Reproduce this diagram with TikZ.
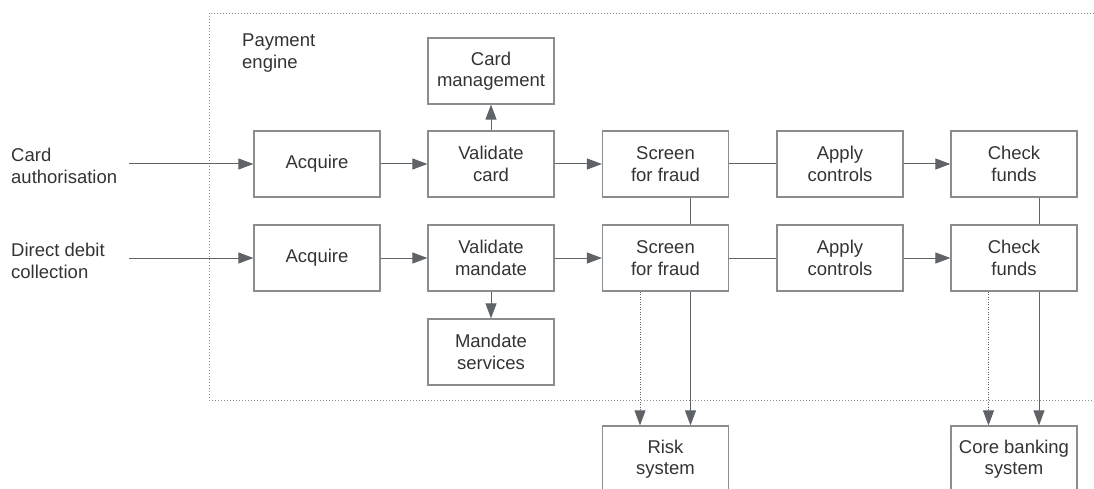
\documentclass[tikz,border=0pt]{standalone}
\usepackage{fontspec}
\setmainfont{Liberation Sans}
\usetikzlibrary{arrows.meta}
\definecolor{linegrey}{HTML}{5F6368}
\definecolor{boxgrey}{HTML}{8A8D90}
\definecolor{textgrey}{HTML}{333333}

\begin{document}
\begin{tikzpicture}[x=1pt, y=-1pt,
    box/.style={draw=boxgrey, line width=1.2pt, minimum width=126pt, minimum height=66pt,
      inner sep=0pt, align=center, text=textgrey, font=\fontsize{18.5}{21.5}\selectfont},
    lbl/.style={align=left, anchor=west, inner sep=0pt, text=textgrey, font=\fontsize{18.5}{21.5}\selectfont},
    arr/.style={-{Triangle[length=15pt,width=11pt]}, draw=linegrey, line width=1pt},
    link/.style={draw=linegrey, line width=1pt}]
  \useasboundingbox (0,0) rectangle (1094,489);
  % payment engine frame
  \draw[draw=boxgrey, line width=0.8pt, dash pattern=on 1pt off 2pt] (209,13) rectangle (1130,400);
  \node[lbl, anchor=north west] (engine) at (242,34) {Payment\\engine};
  % inputs
  \node[lbl] (cardin) at (11,166) {Card\\authorisation};
  \node[lbl] (ddin) at (11,261) {Direct debit\\collection};
  \coordinate (in1) at (129,164);
  \coordinate (in2) at (129,258);
  % card row
  \node[box] (cmg) at (491,71) {Card\\management};
  \node[box] (acq1) at (317,164) {Acquire};
  \node[box] (val1) at (491,164) {Validate\\card};
  \node[box] (scr1) at (665.5,164) {Screen\\for fraud};
  \node[box] (app1) at (840,164) {Apply\\controls};
  \node[box] (chk1) at (1014,164) {Check\\funds};
  % direct debit row
  \node[box] (acq2) at (317,258) {Acquire};
  \node[box] (val2) at (491,258) {Validate\\mandate};
  \node[box] (scr2) at (665.5,258) {Screen\\for fraud};
  \node[box] (app2) at (840,258) {Apply\\controls};
  \node[box] (chk2) at (1014,258) {Check\\funds};
  \node[box] (mds) at (491,352) {Mandate\\services};
  % outside systems
  \node[box] (risk) at (665.5,459) {Risk\\system};
  \node[box] (core) at (1014,459) {Core banking\\system};

  \draw[arr] (in1) -- (acq1);
  \draw[arr] (acq1) -- (val1);
  \draw[arr] (val1) -- (scr1);
  \draw[link] (scr1) -- (app1);
  \draw[arr] (app1) -- (chk1);
  \draw[arr] (val1) -- (cmg);

  \draw[arr] (in2) -- (acq2);
  \draw[arr] (acq2) -- (val2);
  \draw[arr] (val2) -- (scr2);
  \draw[link] (scr2) -- (app2);
  \draw[arr] (app2) -- (chk2);
  \draw[arr] (val2) -- (mds);

  \draw[link] ([xshift=25pt]scr1.south) -- ([xshift=25pt]scr2.north);
  \draw[link] ([xshift=25pt]chk1.south) -- ([xshift=25pt]chk2.north);

  \draw[arr, dash pattern=on 1pt off 1.5pt] ([xshift=-25.5pt]scr2.south) -- ([xshift=-25.5pt]risk.north);
  \draw[arr] ([xshift=25pt]scr2.south) -- ([xshift=25pt]risk.north);
  \draw[arr, dash pattern=on 1pt off 1.5pt] ([xshift=-25.5pt]chk2.south) -- ([xshift=-25.5pt]core.north);
  \draw[arr] ([xshift=25pt]chk2.south) -- ([xshift=25pt]core.north);
\end{tikzpicture}
\end{document}
